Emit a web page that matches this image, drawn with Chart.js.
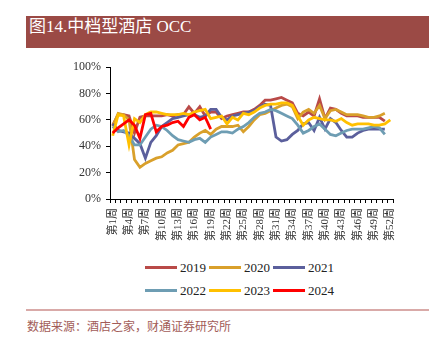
<!DOCTYPE html>
<html>
<head>
<meta charset="utf-8">
<script src="https://cdn.jsdelivr.net/npm/chart.js@4/dist/chart.umd.min.js"></script>
<style>
  html, body { margin: 0; padding: 0; background: #fff; }
  body { width: 429px; height: 346px; position: relative; overflow: hidden; }
  #title { position: absolute; left: 26px; top: 16px; width: 403px; height: 32px; background: #9b4a45;
           color: #fff; font-family: "Liberation Serif", "Noto Sans CJK SC", serif; font-size: 17px;
           line-height: 22px; padding-left: 3px; box-sizing: border-box; }
  #wrap { position: absolute; left: 0; top: 55px; width: 429px; height: 200px; }
  #legend { position: absolute; left: 145px; top: 256px; width: 260px;
            font-family: "Liberation Serif", serif; font-size: 13px; color: #222; }
  .row { display: flex; height: 23px; align-items: center; }
  .item { display: flex; align-items: center; margin-right: 3px; }
  .sw { width: 32px; height: 3px; margin-right: 3px; }
  #rule { position: absolute; left: 26px; top: 309px; width: 403px; height: 2px; background: #d9aaa8; }
  #source { position: absolute; left: 27px; top: 317px; font-family: "Noto Sans CJK SC", sans-serif;
            font-size: 12px; color: #a25c58; letter-spacing: 0px; }
</style>
</head>
<body>
<div id="title">图14.中档型酒店 OCC</div>
<div id="wrap"><canvas id="c" width="429" height="200"></canvas></div>
<div id="legend"></div>
<div id="rule"></div>
<div id="source">数据来源：酒店之家，财通证券研究所</div>
<script>
const weeks = ['第1周','第2周','第3周','第4周','第5周','第6周','第7周','第8周','第9周','第10周',
  '第11周','第12周','第13周','第14周','第15周','第16周','第17周','第18周','第19周','第20周',
  '第21周','第22周','第23周','第24周','第25周','第26周','第27周','第28周','第29周','第30周',
  '第31周','第32周','第33周','第34周','第35周','第36周','第37周','第38周','第39周','第40周',
  '第41周','第42周','第43周','第44周','第45周','第46周','第47周','第48周','第49周','第50周',
  '第51周','第52周'];

const years = ['2019', '2020', '2021', '2022', '2023', '2024'];

const occ2019 = [56,64,64,63,50,62,63,63,63,63,64,63,64,64,70,65,70,63,66,66,
  61,63,64,65,66,66,68,71,75,75,76,77,75,73,65,63,66,63,76,61,
  69,68,65,63,63,63,62,62,62,62,59];
const occ2020 = [55,65,64,60,30,24,27,29,31,32,35,37,41,42,43,47,50,52,49,53,
  55,55,55,56,51,55,60,64,65,67,69,71,72,70,61,66,68,65,71,61,
  67,68,66,64,64,64,63,62,62,63,65];
const occ2021 = [57,52,51,50,46,42,31,43,48,55,58,61,62,63,64,64,62,63,68,68,
  62,60,63,64,65,66,67,70,72,71,47,44,45,49,52,57,58,52,62,53,
  61,58,52,47,47,50,52,53,53,53,53];
const occ2022 = [55,51,52,48,41,41,47,53,56,55,52,48,45,44,43,45,46,43,47,49,
  51,51,50,53,55,58,62,65,66,68,67,65,63,61,56,50,52,55,57,53,
  49,48,50,52,53,53,53,54,55,54,49];
const occ2023 = [48,64,63,41,61,58,64,66,66,65,64,64,64,65,64,66,67,68,61,62,
  63,57,62,60,65,64,66,69,71,72,72,73,73,71,63,56,60,62,61,60,
  60,59,61,58,56,57,57,57,56,56,57,60];
const occ2024 = [50,54,57,60,56,46,64,65,51,55,56,58,59,55,62,64,60,62,53];

const yTicks = [0, 20, 40, 60, 80, 100];

const series = [occ2019, occ2020, occ2021, occ2022, occ2023, occ2024];
const colors = ['#b94a48', '#d9a02b', '#5b5f9c', '#6e9db3', '#ffc000', '#ff0000'];

const datasets = years.map((y, i) => ({
  label: y,
  data: series[i],
  borderColor: colors[i],
  backgroundColor: colors[i],
  borderWidth: 2.8,
  pointRadius: 0,
  tension: 0,
  fill: false,
  order: years.length - 1 - i
}));

const fam = '"Liberation Serif", "Noto Sans CJK SC", serif';

new Chart(document.getElementById('c'), {
  type: 'line',
  data: { labels: weeks, datasets },
  options: {
    responsive: false,
    animation: false,
    devicePixelRatio: 1,
    layout: { padding: { left: 0, right: 36, top: 11, bottom: 0 } },
    plugins: { legend: { display: false }, tooltip: { enabled: false } },
    scales: {
      x: {
        type: 'category',
        offset: true,
        grid: { display: true, drawOnChartArea: false, drawTicks: true, tickLength: 4, color: '#000', offset: true },
        border: { display: true, color: '#000', width: 1 },
        ticks: {
          autoSkip: false, maxRotation: 90, minRotation: 90, padding: 5,
          color: '#333', font: { size: 11, family: fam },
          callback: function (v, i) { return i % 3 === 0 ? this.getLabelForValue(v) : ''; }
        },
        afterFit: s => { s.height = 56; }
      },
      y: {
        min: yTicks[0], max: yTicks[yTicks.length - 1],
        grid: { display: true, drawOnChartArea: false, drawTicks: true, tickLength: 4, color: '#000' },
        border: { display: true, color: '#000', width: 1 },
        afterBuildTicks: s => { s.ticks = yTicks.map(v => ({ value: v })); },
        ticks: {
          padding: 5, color: '#333', font: { size: 12, family: fam },
          callback: v => v + '%'
        },
        afterFit: s => { s.width = 110; }
      }
    }
  }
});

// HTML legend built from the same arrays
const lg = document.getElementById('legend');
for (let r = 0; r < 2; r++) {
  const row = document.createElement('div');
  row.className = 'row';
  for (let k = 0; k < 3; k++) {
    const i = r * 3 + k;
    const it = document.createElement('div');
    it.className = 'item';
    const sw = document.createElement('div');
    sw.className = 'sw';
    sw.style.background = colors[i];
    const tx = document.createElement('span');
    tx.textContent = years[i];
    it.appendChild(sw); it.appendChild(tx);
    row.appendChild(it);
  }
  lg.appendChild(row);
}
</script>
</body>
</html>
